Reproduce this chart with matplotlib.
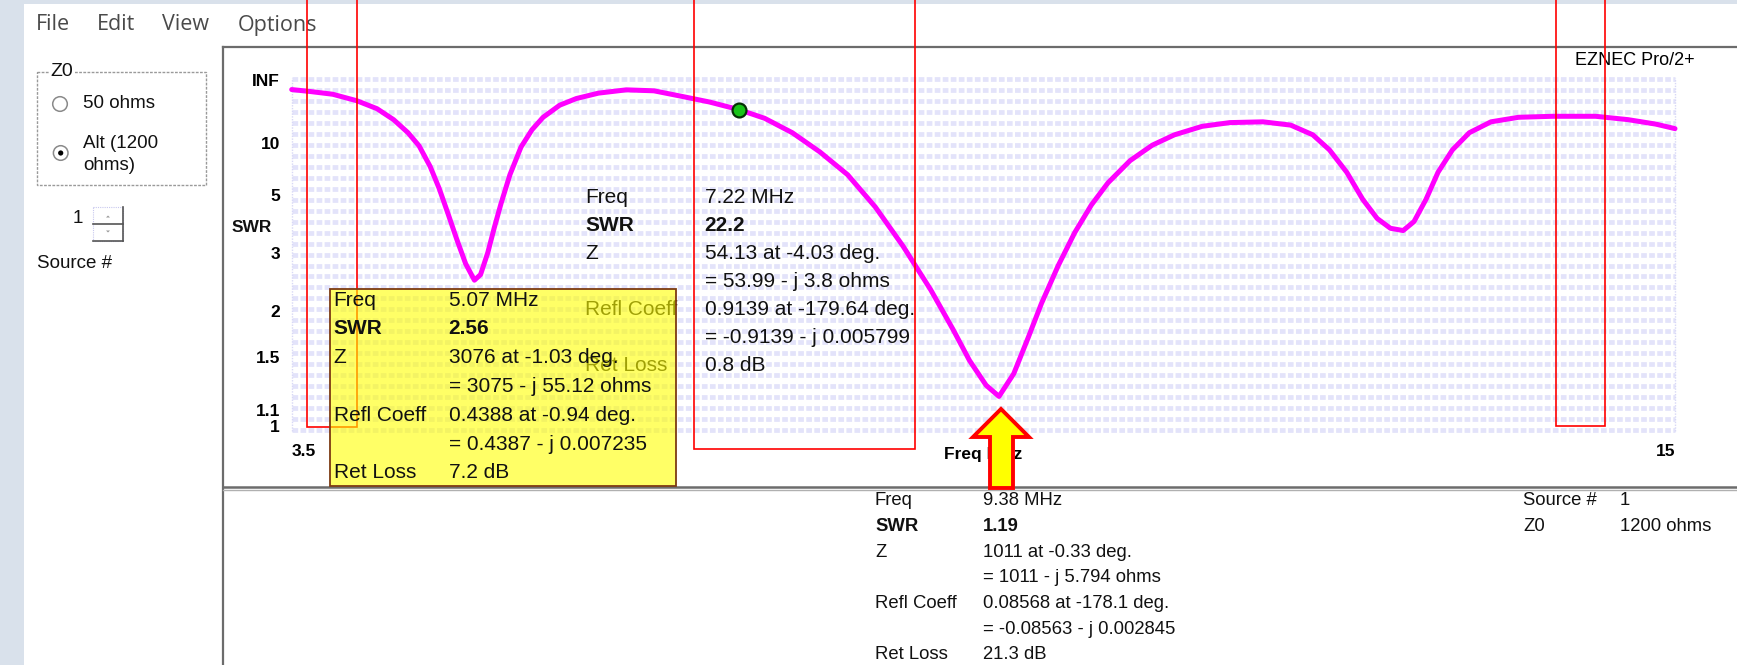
import numpy as np
import matplotlib
matplotlib.use("Agg")
import matplotlib.pyplot as plt
from matplotlib.patches import Rectangle, Polygon, Circle
from matplotlib.ticker import NullLocator

plt.rcParams['font.family'] = ['Liberation Sans', 'DejaVu Sans']

# ---------------- data ----------------
freq_mhz = [3.500, 3.657, 3.841, 4.043, 4.209, 4.347, 4.467, 4.559, 4.651, 4.725,
            4.798, 4.872, 4.946, 5.019, 5.070, 5.130, 5.185, 5.240, 5.314, 5.406,
            5.498, 5.590, 5.728, 5.866, 6.050, 6.281, 6.511, 6.741, 6.971, 7.220,
            7.432, 7.662, 7.892, 8.122, 8.352, 8.582, 8.813, 8.997, 9.135, 9.273,
            9.380, 9.503, 9.623, 9.733, 9.872, 10.010, 10.148, 10.286, 10.470, 10.654,
            10.838, 11.069, 11.299, 11.575, 11.805, 11.989, 12.127, 12.271, 12.404, 12.524,
            12.634, 12.740, 12.830, 12.930, 13.030, 13.150, 13.290, 13.470, 13.700, 13.980,
            14.340, 14.610, 14.840, 15.000]
swr = [70, 58, 47, 32, 23, 16.4, 12.1, 9.5, 7.0, 5.4,
       4.2, 3.35, 2.77, 2.46, 2.56, 3.01, 3.7, 4.6, 6.3, 9.3,
       12.9, 17.5, 26.3, 36, 51, 68, 62, 41, 30.3, 22.2,
       17.0, 12.1, 8.6, 6.3, 4.45, 3.17, 2.30, 1.78, 1.47, 1.27,
       1.19, 1.36, 1.69, 2.10, 2.73, 3.54, 4.54, 5.73, 7.58, 9.6,
       11.6, 13.9, 15.2, 15.5, 14.3, 11.6, 8.9, 6.5, 4.8, 4.0,
       3.67, 3.6, 3.89, 4.8, 6.5, 8.9, 12.1, 15.5, 17.5, 18.0,
       18.0, 16.4, 14.65, 13.2]

cursor_freq = 7.22
cursor_swr = 22.2

INF_SWR = 1e12
ytick_values = [1, 1.1, 1.5, 2, 3, 5, 10, INF_SWR]
ytick_labels = ['1', '1.1', '1.5', '2', '3', '5', '10', 'INF']
xtick_values = [3.5, 15]
xtick_labels = ['3.5', '15']

readout_labels = ['Freq', 'SWR', 'Z', '', 'Refl Coeff', '', 'Ret Loss']
cursor_values = ['7.22 MHz', '22.2', '54.13 at -4.03 deg.', '= 53.99 - j 3.8 ohms',
                 '0.9139 at -179.64 deg.', '= -0.9139 - j 0.005799', '0.8 dB']
box_values = ['5.07 MHz', '2.56', '3076 at -1.03 deg.', '= 3075 - j 55.12 ohms',
              '0.4388 at -0.94 deg.', '= 0.4387 - j 0.007235', '7.2 dB']
source_values = ['9.38 MHz', '1.19', '1011 at -0.33 deg.', '= 1011 - j 5.794 ohms',
                 '0.08568 at -178.1 deg.', '= -0.08563 - j 0.002845', '21.3 dB']
info_labels = ['Source #', 'Z0']
info_values = ['1', '1200 ohms']
menu_items = ['File', 'Edit', 'View', 'Options']

# ---------------- figure ----------------
W, H = 1737, 665
DPI = 100
fig = plt.figure(figsize=(W / DPI, H / DPI), dpi=DPI)

# background (window chrome) in pixel coordinates
bg = fig.add_axes([0, 0, 1, 1], zorder=0)
bg.set_xlim(0, W); bg.set_ylim(H, 0); bg.axis('off')
bg.add_patch(Rectangle((0, 0), W, H, facecolor='#d9e1eb', edgecolor='none'))
bg.add_patch(Rectangle((24, 4), W - 24, H - 4, facecolor='white', edgecolor='none'))

menu_x = [36, 96.7, 161.7, 238]
for mx, name in zip(menu_x, menu_items):
    bg.text(mx, 25, name, fontsize=15.5, family=['Open Sans', 'DejaVu Sans'],
            color='#4a4a4a', va='center', ha='left')

# Z0 group box
bg.add_patch(Rectangle((36.7, 71.7), 169.3, 113.5, facecolor='none', edgecolor='#9a9a9a',
                       lw=1.0, ls=(0, (2, 1))))
bg.text(50, 71.7, 'Z0', fontsize=14, va='center', ha='left', color='#111',
        bbox=dict(facecolor='white', edgecolor='none', pad=1))
bg.add_patch(Circle((60, 104), 7.3, facecolor='white', edgecolor='#8a8a8a', lw=1.1))
bg.add_patch(Circle((60.7, 153), 7.3, facecolor='white', edgecolor='#8a8a8a', lw=1.1))
bg.add_patch(Circle((60.7, 153), 2.6, facecolor='black', edgecolor='none'))
bg.text(83.3, 104, '50 ohms', fontsize=13.5, va='center', ha='left', color='#111')
bg.text(83, 143, 'Alt (1200', fontsize=13.5, va='center', ha='left', color='#111')
bg.text(83, 165, 'ohms)', fontsize=13.5, va='center', ha='left', color='#111')

# source spinner
bg.text(72.7, 218.3, '1', fontsize=13.5, va='center', ha='left', color='#111')
bg.add_patch(Rectangle((93.3, 207), 30, 33.7, facecolor='white', edgecolor='#c8c8ee',
                       lw=0.8, ls=(0, (1, 1))))
bg.plot([123.3, 123.3], [207, 240.7], color='#555', lw=1.2)
bg.plot([93.3, 123.3], [224, 224], color='#555', lw=1.2)
bg.plot([93.3, 123.3], [240.7, 240.7], color='#555', lw=1.2)
bg.add_patch(Polygon([(106, 217.5), (110, 217.5), (108, 215.5)], facecolor='#999', edgecolor='none'))
bg.add_patch(Polygon([(106, 230.5), (110, 230.5), (108, 232.5)], facecolor='#999', edgecolor='none'))
bg.text(37.3, 263.3, 'Source #', fontsize=13.5, va='center', ha='left', color='#111')

# graph frame and separator
bg.plot([223, W], [47.3, 47.3], color='#6c6c6c', lw=1.6)
bg.plot([223, 223], [47.3, H], color='#6c6c6c', lw=1.6)
bg.plot([223, W], [487, 487], color='#6c6c6c', lw=1.8)
bg.plot([223, W], [490, 490], color='#b0b0b0', lw=1.0)

bg.text(1575, 60.7, 'EZNEC Pro/2+', fontsize=13, va='center', ha='left', color='#000')

# ---------------- data axes (SWR scale, linear in reflection coefficient) ----------------
def swr_to_rho(s):
    s = np.asarray(s, dtype=float)
    with np.errstate(divide='ignore', invalid='ignore'):
        r = (s - 1.0) / (s + 1.0)
    return np.where(np.isinf(s), 1.0, r)

def rho_to_swr(r):
    r = np.clip(np.asarray(r, dtype=float), -0.999999, 1 - 1e-13)
    return (1.0 + r) / (1.0 - r)

x_left, x_right = 291.7, 1675.0
y_top, y_bot = 79.8, 426.5
ax = fig.add_axes([x_left / W, (H - y_bot) / H, (x_right - x_left) / W, (y_bot - y_top) / H],
                  zorder=1)
ax.patch.set_alpha(0)
ax.set_yscale('function', functions=(swr_to_rho, rho_to_swr))
ax.set_xlim(3.5, 15)
ax.set_ylim(1, INF_SWR)
for sp in ax.spines.values():
    sp.set_visible(False)

# dotted lavender background bands
band_y = np.linspace(1.002, -0.01, 33)
ax.hlines(band_y, 0, 1, transform=ax.transAxes, colors='#e3e3fa', lw=3.4,
          linestyles=[(0, (1.2, 0.5))], zorder=0, clip_on=False)
for xe in (0, 1):
    ax.plot([xe, xe], [-0.012, 1.005], transform=ax.transAxes, color='#d8d8f6',
            lw=1.0, ls=(0, (1, 1)), zorder=0, clip_on=False)

ax.plot(freq_mhz, swr, color='#ff00ff', lw=3.6, solid_capstyle='round',
        solid_joinstyle='round', zorder=3, clip_on=False)
ax.plot([cursor_freq], [cursor_swr], 'o', ms=10, mfc='#19c419', mec='#063006', mew=1.6,
        zorder=4, clip_on=False)

ax.set_yticks(ytick_values)
ax.set_yticklabels(ytick_labels)
ax.yaxis.set_minor_locator(NullLocator())
ax.set_xticks(xtick_values)
ax.set_xticklabels(xtick_labels)
ax.xaxis.set_minor_locator(NullLocator())
ax.tick_params(axis='y', length=0, pad=8.4, labelsize=12.5)
ax.tick_params(axis='x', length=0, pad=12.6, labelsize=12.5)
for lab in ax.get_yticklabels() + ax.get_xticklabels():
    lab.set_fontweight('bold')
xl = ax.get_xticklabels()
xl[0].set_horizontalalignment('left')
xl[-1].set_horizontalalignment('right')
ax.set_xlabel('Freq MHz', fontsize=12.5, fontweight='bold', ha='left', va='center')
ax.xaxis.set_label_coords((944 - x_left) / (x_right - x_left), -(454 - y_bot) / (y_bot - y_top))

# ---------------- overlay (annotations) ----------------
ov = fig.add_axes([0, 0, 1, 1], zorder=2)
ov.set_xlim(0, W); ov.set_ylim(H, 0); ov.axis('off'); ov.patch.set_alpha(0)

ov.text(232, 227, 'SWR', fontsize=12.5, fontweight='bold', va='center', ha='left', color='#111')

# red rectangles
for xa, xb, yb in [(307.3, 357.0, 426.5), (693.5, 915.0, 448.7), (1556.0, 1605.0, 426.0)]:
    ov.plot([xa, xa, xb, xb], [0, yb, yb, 0], color='red', lw=1.2, zorder=2,
            solid_joinstyle='miter')

# cursor readout (7.22 MHz)
row_c = [197.2 + 28.06 * k for k in range(7)]
for k, (lab, val) in enumerate(zip(readout_labels, cursor_values)):
    fw = 'bold' if lab == 'SWR' else 'normal'
    if lab:
        ov.text(585, row_c[k], lab, fontsize=15, fontweight=fw, va='center', ha='left',
                color='#111', zorder=1)
    ov.text(704.6, row_c[k], val, fontsize=15, fontweight=fw, va='center', ha='left',
            color='#111', zorder=1)

# semi-transparent yellow marker box (5.07 MHz)
ov.add_patch(Rectangle((329.5, 289), 346, 197, facecolor='#ffff00', alpha=0.6,
                       edgecolor='none', zorder=3))
ov.add_patch(Rectangle((329.5, 289), 346, 197, facecolor='none', edgecolor='#7c3a12',
                       lw=1.3, zorder=3.1))
row_b = [300.2 + 28.8 * k for k in range(7)]
for k, (lab, val) in enumerate(zip(readout_labels, box_values)):
    fw = 'bold' if lab == 'SWR' else 'normal'
    if lab:
        ov.text(333.5, row_b[k], lab, fontsize=15, fontweight=fw, va='center', ha='left',
                color='#111', zorder=4)
    ov.text(448.7, row_b[k], val, fontsize=15, fontweight=fw, va='center', ha='left',
            color='#111', zorder=4)

# lower panel readout (9.38 MHz)
row_s = [500.7 + 25.67 * k for k in range(7)]
for k, (lab, val) in enumerate(zip(readout_labels, source_values)):
    fw = 'bold' if lab == 'SWR' else 'normal'
    if lab:
        ov.text(875, row_s[k], lab, fontsize=13.3, fontweight=fw, va='center', ha='left',
                color='#111', zorder=4)
    ov.text(982.6, row_s[k], val, fontsize=13.3, fontweight=fw, va='center', ha='left',
            color='#111', zorder=4)
for k, (lab, val) in enumerate(zip(info_labels, info_values)):
    ov.text(1523, row_s[k], lab, fontsize=13.3, va='center', ha='left', color='#111')
    ov.text(1620, row_s[k], val, fontsize=13.3, va='center', ha='left', color='#111')

# yellow arrow pointing at the 9.38 MHz dip
arrow = [(1001, 409), (1029, 437), (1013, 437), (1013, 488), (990, 488), (990, 437), (973, 437)]
ov.add_patch(Polygon(arrow, closed=True, facecolor='#ffff00', edgecolor='#ff0000', lw=2.8,
                     joinstyle='miter', zorder=6))

fig.savefig('out.png', dpi=DPI)
